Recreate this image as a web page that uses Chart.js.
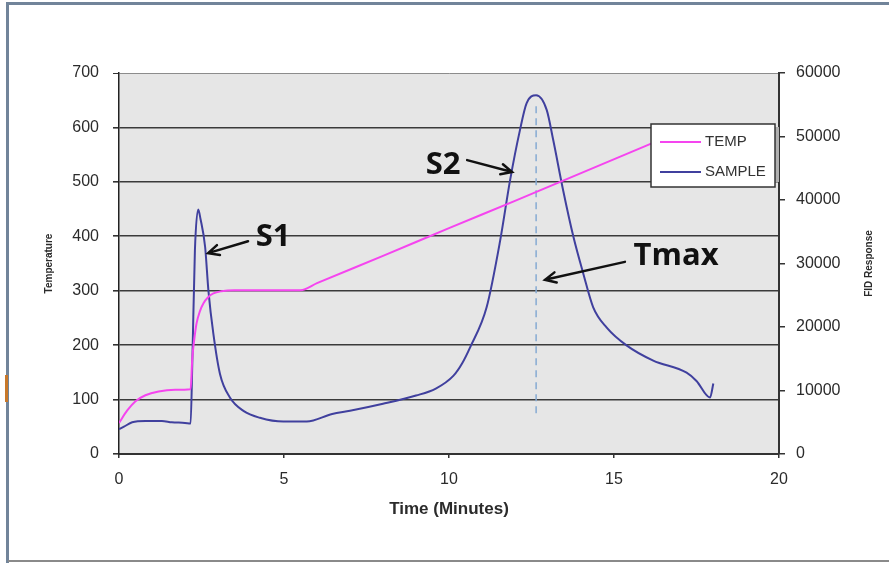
<!DOCTYPE html>
<html>
<head>
<meta charset="utf-8">
<title>TEMP / SAMPLE</title>
<script src="https://cdn.jsdelivr.net/npm/chart.js@4.4.1/dist/chart.umd.min.js"></script>
<style>
  html, body { margin: 0; padding: 0; background: #fff; }
  canvas { display: block; }
</style>
</head>
<body>
<canvas id="chart" width="889" height="563"></canvas>
<script>
// temperature programme (left axis)
const tempTime   = [0, 0.25, 0.5, 0.8, 1.2, 1.7, 2.17, 2.22, 2.28, 2.35, 2.45, 2.56, 2.7, 2.86, 3.1, 3.5, 5.5,
                    6, 8, 10, 12, 14, 16, 17];
const tempValues = [57, 80, 97, 108, 115, 118, 119, 175, 210, 240, 262, 277, 288, 295, 299, 301, 301,
                    314, 364, 415, 465, 516, 567, 593];

// FID signal (right axis)
const sampleTime = [0, 0.15, 0.4, 0.8, 1.3, 1.6, 2.0, 2.17, 2.22, 2.3, 2.4, 2.47, 2.61, 2.71, 2.86, 3.06, 3.36, 3.77,
                    4.27, 4.98, 5.69, 6.46, 7.0, 8.0, 9.0, 9.6, 10.13, 10.4, 10.64, 11.14, 11.55, 11.85, 12.15, 12.35, 12.64,
                    12.96, 13.16, 13.46, 13.77, 14.07, 14.37, 14.78, 15.38, 16.19, 17.2, 17.5, 17.91, 18.01];
const sampleValues = [3900, 4300, 5000, 5200, 5200, 5000, 4900, 4800, 14000, 32000, 38500, 37000, 32600, 25700, 18900, 12600, 8900, 6800,
                      5700, 5100, 5100, 6300, 6800, 7900, 9200, 10300, 12300, 14300, 16800, 23100, 33600, 43100, 51000, 55200, 56500,
                      54200, 49400, 41500, 34200, 28400, 23100, 19900, 17100, 14700, 12800, 11500, 8900, 11100];

// Tmax marker (right axis units)
const tmaxTime   = [12.64, 12.64];
const tmaxValues = [6400, 55000];

// callouts: label position and arrow tail/head, x in minutes, y in °C
const noteText  = ['S1', 'S2', 'Tmax'];
const noteX     = [4.67, 9.82, 16.88];
const noteY     = [399, 531, 364];
const arrowFrom = [[3.91, 391], [10.55, 540], [15.33, 353]];
const arrowTo   = [[2.70, 369], [11.91, 518], [12.91, 320]];

const pts = (xs, ys) => xs.map((x, i) => ({ x, y: ys[i] }));
const INK = '#2b2b2b';

const framePlugin = {
  id: 'frame',
  beforeDraw(chart) {
    const { ctx, chartArea: a, width, height } = chart;
    ctx.save();
    ctx.fillStyle = '#e6e6e6';
    ctx.fillRect(a.left, a.top, a.right - a.left, a.bottom - a.top);
    // page border
    ctx.fillStyle = '#71849a';
    ctx.fillRect(6, 2, 3, height - 2);
    ctx.fillRect(6, 2, width - 6, 3);
    ctx.fillStyle = '#c8782a';
    ctx.fillRect(5, 375, 3, 27);
    ctx.fillStyle = '#8a8a8a';
    ctx.fillRect(8, 560, width - 8, 2);
    ctx.restore();
  },
  afterDraw(chart) {
    const { ctx, chartArea: a } = chart;
    ctx.save();
    ctx.fillStyle = INK;
    ctx.font = 'bold 10px "Liberation Sans", Arial, sans-serif';
    ctx.textAlign = 'center';
    ctx.textBaseline = 'middle';
    ctx.translate(a.left - 70, (a.top + a.bottom) / 2);
    ctx.rotate(-Math.PI / 2);
    ctx.fillText('Temperature', 0, 0);
    ctx.restore();

    ctx.save();
    ctx.fillStyle = INK;
    ctx.font = 'bold 10px "Liberation Sans", Arial, sans-serif';
    ctx.textAlign = 'center';
    ctx.textBaseline = 'middle';
    ctx.translate(a.right + 90, (a.top + a.bottom) / 2);
    ctx.rotate(-Math.PI / 2);
    ctx.fillText('FID Response', 0, 0);
    ctx.restore();
  },
};

const calloutPlugin = {
  id: 'callouts',
  afterDatasetsDraw(chart) {
    const { ctx, scales: { x, y } } = chart;
    ctx.save();
    ctx.strokeStyle = '#111';
    ctx.fillStyle = '#111';
    ctx.lineWidth = 2.5;
    ctx.lineCap = 'round';
    noteText.forEach((t, i) => {
      ctx.font = 'bold 31px "Open Sans", sans-serif';
      ctx.textAlign = 'center';
      ctx.textBaseline = 'middle';
      ctx.fillText(t, x.getPixelForValue(noteX[i]), y.getPixelForValue(noteY[i]));

      const x0 = x.getPixelForValue(arrowFrom[i][0]), y0 = y.getPixelForValue(arrowFrom[i][1]);
      const x1 = x.getPixelForValue(arrowTo[i][0]),   y1 = y.getPixelForValue(arrowTo[i][1]);
      const ang = Math.atan2(y1 - y0, x1 - x0);
      ctx.beginPath();
      ctx.moveTo(x0, y0);
      ctx.lineTo(x1, y1);
      ctx.moveTo(x1 - 12 * Math.cos(ang - 0.45), y1 - 12 * Math.sin(ang - 0.45));
      ctx.lineTo(x1, y1);
      ctx.lineTo(x1 - 12 * Math.cos(ang + 0.45), y1 - 12 * Math.sin(ang + 0.45));
      ctx.stroke();
    });
    ctx.restore();
  },
};

// boxed legend sitting inside the plot, top right
const boxLegend = {
  id: 'boxLegend',
  afterDatasetsDraw(chart) {
    const { ctx, chartArea: a } = chart;
    const w = 124, h = 63;
    const left = a.right - w - 4, top = a.top + 51;
    ctx.save();
    ctx.fillStyle = '#b0b0b0';
    ctx.fillRect(left + w, top + 3, 4, h - 8);
    ctx.fillStyle = '#fff';
    ctx.fillRect(left, top, w, h);
    ctx.strokeStyle = '#333';
    ctx.lineWidth = 1.5;
    ctx.strokeRect(left, top, w, h);
    ctx.font = '15px "Liberation Sans", Arial, sans-serif';
    ctx.textBaseline = 'middle';
    ctx.textAlign = 'left';
    chart.data.datasets.slice(0, 2).forEach((ds, i) => {
      const yy = top + 18 + i * 30;
      ctx.strokeStyle = ds.borderColor;
      ctx.lineWidth = 2;
      ctx.beginPath();
      ctx.moveTo(left + 9, yy);
      ctx.lineTo(left + 50, yy);
      ctx.stroke();
      ctx.fillStyle = '#333';
      ctx.fillText(ds.label, left + 54, yy);
    });
    ctx.restore();
  },
};

const tickFont = { family: '"Liberation Sans", Arial, sans-serif', size: 16 };
const plain = v => String(v);

new Chart(document.getElementById('chart'), {
  type: 'line',
  data: {
    datasets: [
      {
        label: 'TEMP', data: pts(tempTime, tempValues), yAxisID: 'y',
        borderColor: '#f545ef', borderWidth: 2, pointRadius: 0, cubicInterpolationMode: 'monotone',
      },
      {
        label: 'SAMPLE', data: pts(sampleTime, sampleValues), yAxisID: 'y1',
        borderColor: '#40409e', borderWidth: 2, pointRadius: 0, cubicInterpolationMode: 'monotone',
      },
      {
        label: 'Tmax', data: pts(tmaxTime, tmaxValues), yAxisID: 'y1',
        borderColor: '#86abd3', borderWidth: 1.5, borderDash: [7, 5], pointRadius: 0,
      },
    ],
  },
  options: {
    responsive: false,
    animation: false,
    layout: { padding: { top: 73, bottom: 43, left: 40, right: 12 } },
    plugins: { legend: { display: false }, tooltip: { enabled: false } },
    scales: {
      x: {
        type: 'linear', min: 0, max: 20,
        ticks: { stepSize: 5, font: tickFont, color: INK, padding: 12, maxRotation: 0, callback: plain },
        grid: { drawOnChartArea: false, tickLength: 4, color: '#333', lineWidth: 1.5 },
        border: { color: '#333', width: 2 },
        title: {
          display: true, text: 'Time (Minutes)', color: INK,
          font: { family: '"Liberation Sans", Arial, sans-serif', size: 17, weight: 'bold' },
          padding: { top: 0, bottom: 0 },
        },
        afterFit: s => { s.height = 66; },
      },
      y: {
        position: 'left', min: 0, max: 700,
        ticks: { stepSize: 100, font: tickFont, color: INK, padding: 14, callback: plain },
        grid: {
          tickLength: 6, tickColor: '#333',
          color: c => (c.tick && c.tick.value === 700 ? '#8c8c8c' : '#3a3a3a'),
          lineWidth: c => (c.tick && c.tick.value === 700 ? 1 : 1.6),
        },
        border: { color: '#222', width: 1.5 },
        afterFit: s => { s.width = 79; },
      },
      y1: {
        position: 'right', min: 0, max: 60000,
        ticks: { stepSize: 10000, font: tickFont, color: INK, padding: 11, callback: plain },
        grid: { drawOnChartArea: false, tickLength: 6, color: '#333', lineWidth: 1.5 },
        border: { color: '#333', width: 2 },
        afterFit: s => { s.width = 98; },
      },
    },
  },
  plugins: [framePlugin, calloutPlugin, boxLegend],
});
</script>
</body>
</html>
